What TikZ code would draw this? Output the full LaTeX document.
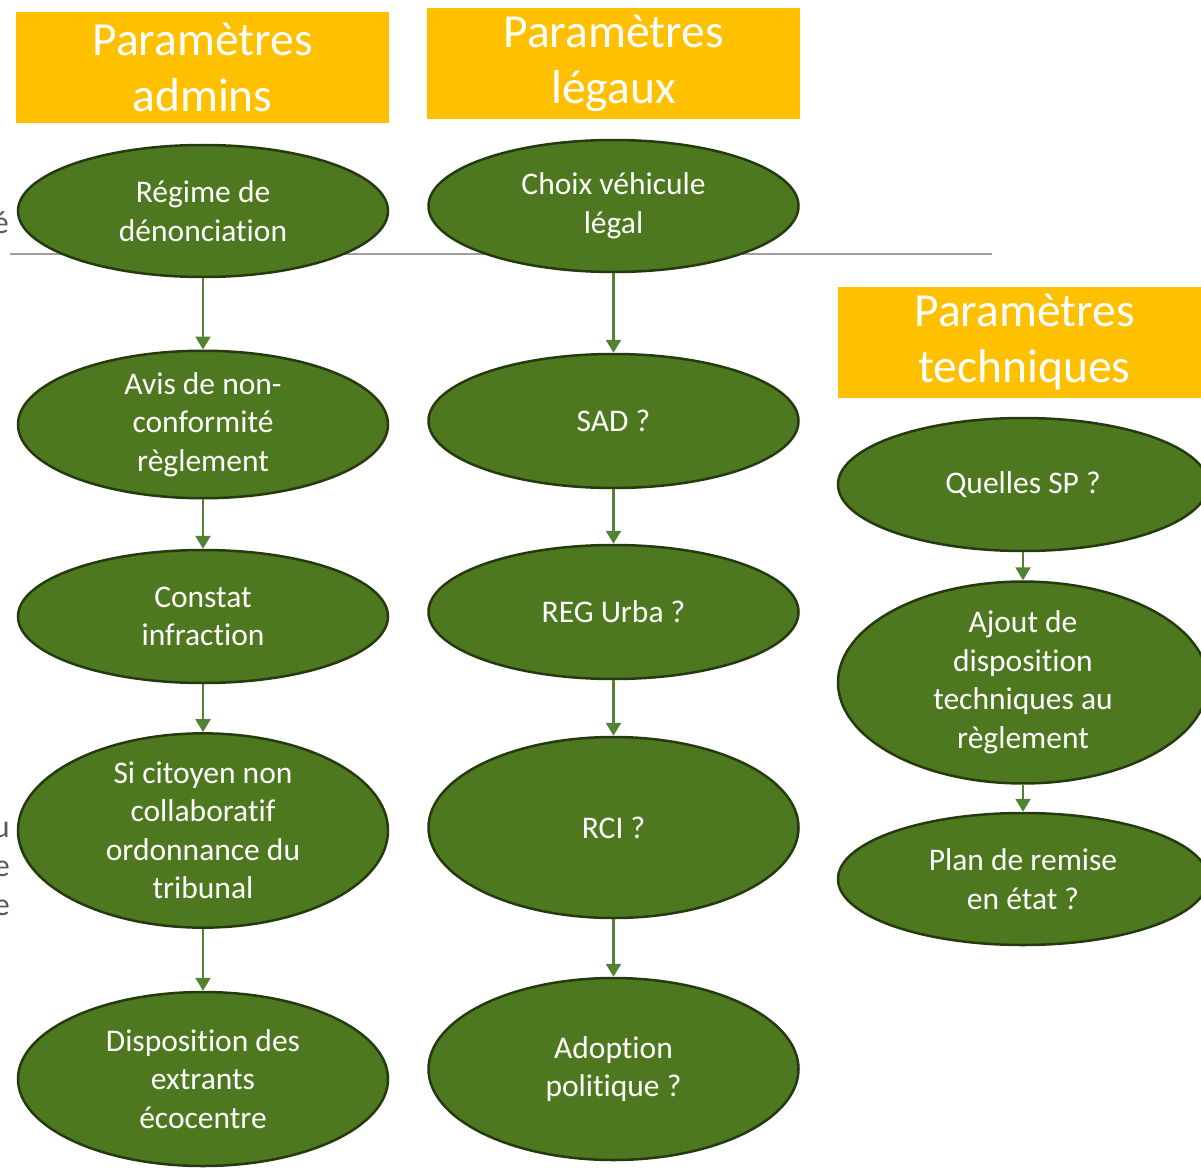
\documentclass[tikz,border=0pt]{standalone}
\usepackage{fontspec}
\setmainfont{Carlito}[Ligatures={NoCommon}]
\usetikzlibrary{shapes.geometric,arrows.meta}
\definecolor{ellfill}{HTML}{4E781F}
\definecolor{elldraw}{HTML}{253A0E}
\definecolor{arrowc}{HTML}{548235}
\definecolor{titlebg}{HTML}{FFC000}
\definecolor{greytxt}{HTML}{595959}
\begin{document}
\begin{tikzpicture}[x=1pt,y=-1pt,
  bubble/.style={ellipse,fill=ellfill,draw=elldraw,line width=2.5pt,
    minimum width=370pt,inner sep=0pt,text=white,align=center,
    font=\fontsize{31.5}{38.5}\selectfont},
  titlebox/.style={fill=titlebg,minimum width=373pt,minimum height=111pt,
    inner sep=0pt,text=white,align=center,font=\fontsize{47.5}{56}\selectfont},
  flow/.style={draw=arrowc,line width=2.5pt,-{Triangle[length=13pt,width=15pt]}},
  frag/.style={text=greytxt,font=\fontsize{32}{39}\selectfont,inner sep=0pt,align=right}]
\useasboundingbox (0,0) rectangle (1201,1169);
% background fragments
\draw[draw=black!38,line width=1.5pt] (10,254) -- (992,254);
\node[frag,anchor=base east] (fragA) at (9,233) {é};
\node[frag,anchor=base east] (fragB) at (10,837) {u};
\node[frag,anchor=base east] (fragC) at (10,876) {e};
\node[frag,anchor=base east] (fragD) at (10,915) {e};
% titles
\node[titlebox] (tA) at (202.5,67.5) {Paramètres\\admins};
\node[titlebox] (tB) at (613.5,63.5) {Paramètres\\légaux};
\node[titlebox] (tC) at (1024.5,342.5) {Paramètres\\techniques};
% left column
\node[bubble,minimum height=132pt] (e1) at (203,211) {Régime de\\dénonciation};
\node[bubble,minimum height=133pt] (e2) at (203,424.5) {Avis de non-\\conformité\\règlement};
\node[bubble,minimum height=133pt] (e3) at (203,616.5) {Constat\\infraction};
\node[bubble,minimum height=181pt] (e4) at (203,830.5) {Si citoyen non\\collaboratif\\ordonnance du\\tribunal};
\node[bubble,minimum height=174pt] (e5) at (203,1079) {Disposition des\\extrants\\écocentre};
% middle column
\node[bubble,minimum height=132pt] (m1) at (613.5,206) {Choix véhicule\\légal};
\node[bubble,minimum height=134pt] (m2) at (613.5,421) {SAD ?};
\node[bubble,minimum height=134pt] (m3) at (613.5,612) {REG Urba ?};
\node[bubble,minimum height=181pt] (m4) at (613.5,827.5) {RCI ?};
\node[bubble,minimum height=182pt] (m5) at (613.5,1069) {Adoption\\politique ?};
% right column
\node[bubble,minimum height=133pt] (r1) at (1023,484.5) {Quelles SP ?};
\node[bubble,minimum height=175pt] (r2) at (1023,682.5) {Ajout de\\disposition\\techniques au\\règlement};
\node[bubble,minimum height=132pt] (r3) at (1023,879) {Plan de remise\\en état ?};
% connectors
\draw[flow] (e1.south) -- (e2.north);
\draw[flow] (e2.south) -- (e3.north);
\draw[flow] (e3.south) -- (e4.north);
\draw[flow] (e4.south) -- (e5.north);
\draw[flow] (m1.south) -- (m2.north);
\draw[flow] (m2.south) -- (m3.north);
\draw[flow] (m3.south) -- (m4.north);
\draw[flow] (m4.south) -- (m5.north);
\draw[flow] (r1.south) -- (r2.north);
\draw[flow] (r2.south) -- (r3.north);
\end{tikzpicture}
\end{document}
